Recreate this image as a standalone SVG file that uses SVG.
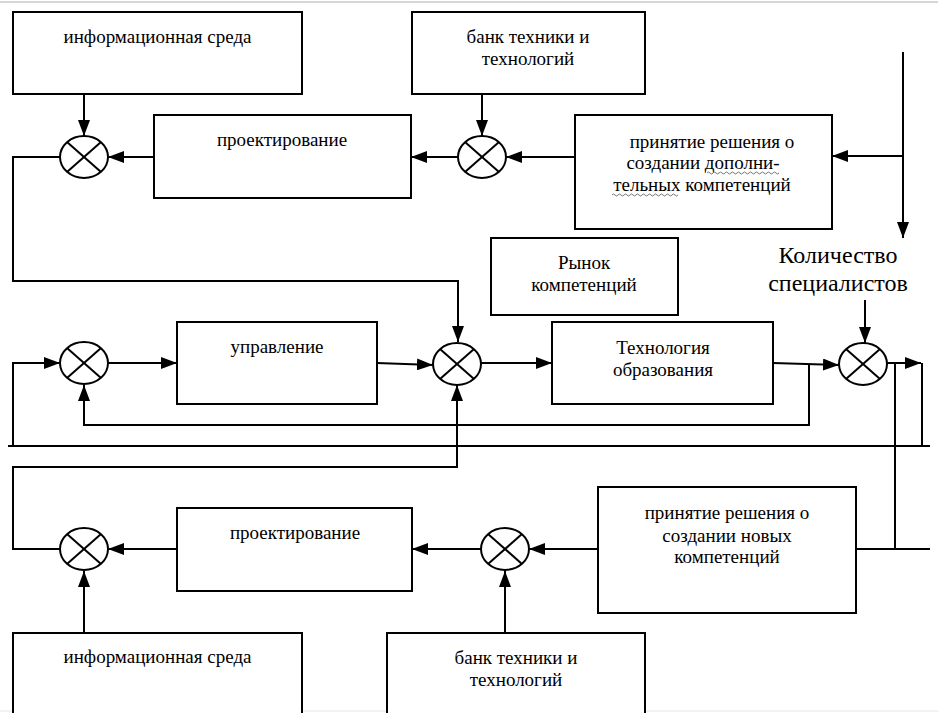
<svg xmlns="http://www.w3.org/2000/svg" width="938" height="713" viewBox="0 0 938 713" font-family="Liberation Serif, Times New Roman, serif">
<style>
.box{fill:#fff;stroke:#000;stroke-width:2}
.sum{fill:#fff;stroke:#000;stroke-width:2}
.x{stroke:#000;stroke-width:2}
.ln{fill:none;stroke:#000;stroke-width:2}
text{font-family:"Liberation Serif","Times New Roman",Tinos,"DejaVu Serif",serif;font-size:19px;fill:#000;text-anchor:middle}
.big{font-size:24px}
.sq{fill:none;stroke:#666;stroke-width:0.9}
</style>
<defs>
<marker id="ah" markerUnits="userSpaceOnUse" markerWidth="16" markerHeight="12" refX="16" refY="6" orient="auto" viewBox="0 0 16 12">
<path d="M0,0 L16,6 L0,12 z" fill="#000"/>
</marker>
<g id="sj">
<ellipse cx="0" cy="0" rx="24" ry="21" class="sum"/>
<line x1="-17" y1="-15" x2="17" y2="15" class="x"/>
<line x1="-17" y1="15" x2="17" y2="-15" class="x"/>
</g>
</defs>
<rect width="938" height="713" fill="#fff"/>
<line x1="0" y1="2" x2="938" y2="2" stroke="#c8c8c8" stroke-width="1.5"/>
<line x1="0" y1="711" x2="938" y2="711" stroke="#e6e6e6" stroke-width="1"/>

<g id="connectors">
<line x1="84" y1="94" x2="84" y2="136" class="ln" marker-end="url(#ah)"/>
<line x1="154" y1="157" x2="108" y2="157" class="ln" marker-end="url(#ah)"/>
<line x1="482" y1="94" x2="482" y2="136" class="ln" marker-end="url(#ah)"/>
<line x1="458" y1="157" x2="411" y2="157" class="ln" marker-end="url(#ah)"/>
<line x1="575" y1="157" x2="506" y2="157" class="ln" marker-end="url(#ah)"/>
<line x1="903" y1="52" x2="903" y2="238" class="ln" marker-end="url(#ah)"/>
<line x1="903" y1="156" x2="832" y2="156" class="ln" marker-end="url(#ah)"/>
<polyline points="60,157 13,157 13,281 458,281 458,342" class="ln" marker-end="url(#ah)"/>
<polyline points="13,446 13,363 60,363" class="ln" marker-end="url(#ah)"/>
<line x1="108" y1="363" x2="177" y2="363" class="ln" marker-end="url(#ah)"/>
<line x1="377" y1="363" x2="433" y2="365" class="ln" marker-end="url(#ah)"/>
<line x1="481" y1="363" x2="552" y2="363" class="ln" marker-end="url(#ah)"/>
<line x1="773" y1="363" x2="839" y2="365" class="ln" marker-end="url(#ah)"/>
<polyline points="809,364 809,425 84,425 84,385" class="ln" marker-end="url(#ah)"/>
<line x1="865" y1="300" x2="865" y2="343" class="ln" marker-end="url(#ah)"/>
<line x1="887" y1="363" x2="921" y2="363" class="ln" marker-end="url(#ah)"/>
<line x1="922" y1="363" x2="922" y2="446" class="ln"/>
<line x1="895" y1="363" x2="895" y2="549" class="ln"/>
<line x1="8" y1="446" x2="930" y2="446" class="ln"/>
<polyline points="60,549 13,549 13,467 457,467 457,385" class="ln" marker-end="url(#ah)"/>
<line x1="177" y1="549" x2="108" y2="549" class="ln" marker-end="url(#ah)"/>
<line x1="84" y1="633" x2="84" y2="571" class="ln" marker-end="url(#ah)"/>
<line x1="482" y1="549" x2="412" y2="549" class="ln" marker-end="url(#ah)"/>
<line x1="505" y1="633" x2="505" y2="571" class="ln" marker-end="url(#ah)"/>
<line x1="598" y1="549" x2="529" y2="549" class="ln" marker-end="url(#ah)"/>
<line x1="856" y1="549" x2="930" y2="549" class="ln"/>
</g>

<g id="info-top">
<rect x="13" y="12" width="289" height="82" class="box"/>
<text x="157.5" y="43">информационная среда</text>
</g>
<g id="bank-top">
<rect x="412" y="12" width="233" height="82" class="box"/>
<text x="528" y="43">банк техники и</text>
<text x="528" y="65">технологий</text>
</g>
<g id="sum-top-left"><use href="#sj" x="84" y="157"/></g>
<g id="sum-top-mid"><use href="#sj" x="482" y="157"/></g>
<g id="design-top">
<rect x="154" y="115" width="257" height="83" class="box"/>
<text x="282" y="146">проектирование</text>
</g>
<g id="decision-top">
<rect x="575" y="115" width="257" height="114" class="box"/>
<text x="712" y="148">принятие решения о</text>
<text x="703" y="169">создании дополни-</text>
<text x="702" y="191">тельных компетенций</text>
<path class="sq" d="M707,173 q1.5,-2 3,0 t3,0 t3,0 t3,0 t3,0 t3,0 t3,0 t3,0 t3,0 t3,0 t3,0 t3,0 t3,0 t3,0 t3,0 t3,0 t3,0 t3,0 t3,0 t3,0 t3,0 t3,0 t3,0 t3,0"/>
<path class="sq" d="M612,195 q1.5,-2 3,0 t3,0 t3,0 t3,0 t3,0 t3,0 t3,0 t3,0 t3,0 t3,0 t3,0 t3,0 t3,0 t3,0 t3,0 t3,0 t3,0 t3,0 t3,0 t3,0 t3,0 t3,0"/>
</g>
<g id="market">
<rect x="491" y="238" width="187" height="77" class="box"/>
<text x="584" y="269">Рынок</text>
<text x="584" y="291">компетенций</text>
</g>
<g id="specialists">
<text x="838" y="263" class="big">Количество</text>
<text x="838" y="291" class="big">специалистов</text>
</g>
<g id="sum-mid-left"><use href="#sj" x="84" y="363"/></g>
<g id="control">
<rect x="177" y="322" width="200" height="82" class="box"/>
<text x="277" y="353">управление</text>
</g>
<g id="sum-mid-center"><use href="#sj" x="457" y="364"/></g>
<g id="edu-tech">
<rect x="552" y="322" width="221" height="82" class="box"/>
<text x="663" y="354">Технология</text>
<text x="663" y="376">образования</text>
</g>
<g id="sum-mid-right"><use href="#sj" x="863" y="364"/></g>
<g id="sum-bot-left"><use href="#sj" x="84" y="549"/></g>
<g id="design-bot">
<rect x="177" y="508" width="235" height="83" class="box"/>
<text x="295" y="539">проектирование</text>
</g>
<g id="sum-bot-mid"><use href="#sj" x="505" y="549"/></g>
<g id="decision-bot">
<rect x="598" y="487" width="258" height="126" class="box"/>
<text x="727" y="519">принятие решения о</text>
<text x="727" y="542">создании новых</text>
<text x="727" y="563">компетенций</text>
</g>
<g id="info-bot">
<path d="M13,720 L13,633 L302,633 L302,720" class="box"/>
<text x="157.5" y="663">информационная среда</text>
</g>
<g id="bank-bot">
<path d="M387,720 L387,633 L645,633 L645,720" class="box"/>
<text x="516" y="664">банк техники и</text>
<text x="516" y="686">технологий</text>
</g>
</svg>
